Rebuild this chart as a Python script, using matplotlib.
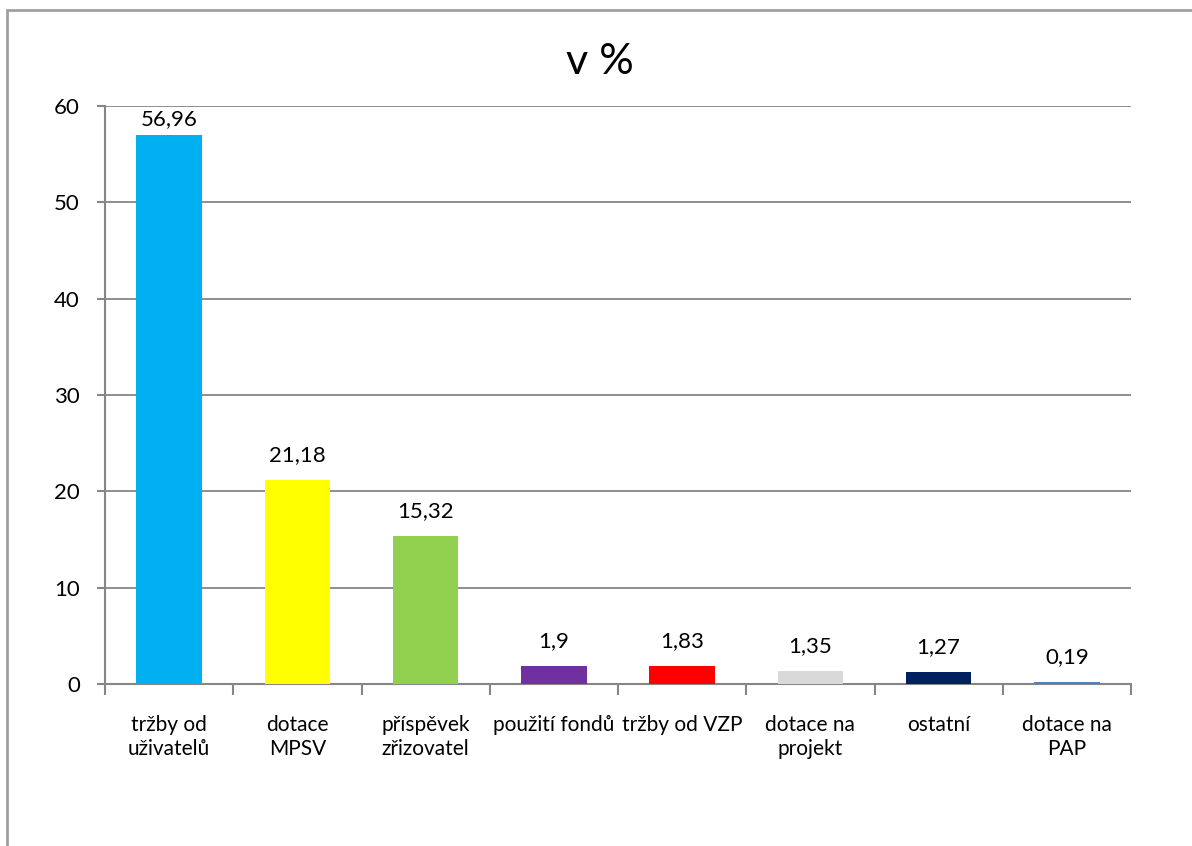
import matplotlib.pyplot as plt
import matplotlib.patches as mpatches
import numpy as np

plt.rcParams['font.family'] = ['Lato', 'DejaVu Sans']

#---------------------------------------------------------------------------------------------------
# data
categories = ["tržby od\nuživatelů", "dotace\nMPSV", "příspěvek\nzřizovatel", "použití fondů",
              "tržby od VZP", "dotace na\nprojekt", "ostatní", "dotace na\nPAP"]
values = [56.96, 21.18, 15.32, 1.9, 1.83, 1.35, 1.27, 0.19]
value_labels = ["56,96", "21,18", "15,32", "1,9", "1,83", "1,35", "1,27", "0,19"]
colors = ["#00B0F0", "#FFFF00", "#92D050", "#7030A0", "#FF0000", "#D9D9D9", "#002060", "#4F81BD"]

GRAY = "#868686"

#---------------------------------------------------------------------------------------------------
fig = plt.figure(figsize=(11.92, 8.46), dpi=100)

# outer chart frame (only left and top visible in the picture)
fig.patches.append(mpatches.Rectangle((7 / 1192, -0.1), 1.2, 1 - 10 / 846 + 0.1,
                                      transform=fig.transFigure, fill=False,
                                      edgecolor="#A0A0A0", linewidth=2.0))

ax = fig.add_axes([105 / 1192, 1 - 684 / 846, 1026 / 1192, 578 / 846])

x = np.arange(len(values))
ax.bar(x, values, width=0.51, color=colors, zorder=3)

for xi, v, lab in zip(x, values, value_labels):
    # labels near the top of the plot get squeezed under the upper gridline
    off = 12 if v > 50 else 18
    ax.annotate(lab, (xi, v), xytext=(0, off), textcoords="offset points",
                ha="center", va="center", fontsize=16)

ax.set_xlim(-0.5, len(values) - 0.5)
ax.set_ylim(0, 60)
ax.set_yticks(np.arange(0, 61, 10))
ax.tick_params(axis="y", labelsize=16, length=6, width=1.5, color=GRAY, pad=12)
ax.yaxis.grid(True, color=GRAY, linewidth=1.3, zorder=0)

# category ticks on boundaries, labels at centres
ax.set_xticks(np.arange(-0.5, len(values), 1.0))
ax.set_xticklabels([])
ax.set_xticks(x, minor=True)
ax.set_xticklabels(categories, minor=True, fontsize=15, linespacing=1.3)
ax.tick_params(axis="x", which="minor", length=0, pad=22)
ax.tick_params(axis="x", which="major", length=8, width=1.5, color=GRAY)

for side in ["top", "right"]:
    ax.spines[side].set_visible(False)
for side in ["left", "bottom"]:
    ax.spines[side].set_color(GRAY)
    ax.spines[side].set_linewidth(1.5)

fig.text(600 / 1192, 1 - 62 / 846, "v %", ha="center", va="center", fontsize=31)

fig.savefig("out.png", dpi=100)
